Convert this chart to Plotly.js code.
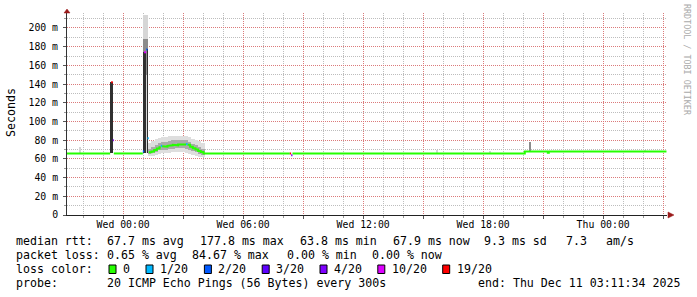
<!DOCTYPE html>
<html><head><meta charset="utf-8">
<script src="https://cdn.plot.ly/plotly-3.0.1.min.js"></script>
<style>html,body{margin:0;padding:0;background:#fff;overflow:hidden}#chart{width:697px;height:297px}</style>
</head><body><div id="chart"></div>
<script>
// ---------- data ----------
const rangeStart = '2025-12-09 21:11:34';
const rangeEnd   = '2025-12-11 03:11:34';

const lossLevels = [0, 1, 2, 3, 4, 10, 19];
const lossLabels = ['0', '1/20', '2/20', '3/20', '4/20', '10/20', '19/20'];
const lossColors = ['#26ff00', '#00b8ff', '#0059ff', '#5e00ff', '#7e00ff', '#dd00ff', '#ff0000'];

// median rtt (ms), step changes: value holds from medT[i] to medT[i+1]
const medT = [
  '2025-12-09 21:10', '2025-12-09 23:21', '2025-12-09 23:24', '2025-12-09 23:29', '2025-12-09 23:32',
  '2025-12-10 00:59', '2025-12-10 01:03', '2025-12-10 01:09', '2025-12-10 01:13', '2025-12-10 01:17',
  '2025-12-10 01:25', '2025-12-10 01:33', '2025-12-10 01:41', '2025-12-10 01:49', '2025-12-10 01:53',
  '2025-12-10 01:57', '2025-12-10 02:05', '2025-12-10 02:13', '2025-12-10 02:21', '2025-12-10 02:29',
  '2025-12-10 02:37', '2025-12-10 02:45', '2025-12-10 02:53', '2025-12-10 03:01', '2025-12-10 03:09',
  '2025-12-10 03:13', '2025-12-10 03:21', '2025-12-10 03:29', '2025-12-10 03:37', '2025-12-10 03:45',
  '2025-12-10 03:53', '2025-12-10 04:01', '2025-12-10 08:20', '2025-12-10 08:24', '2025-12-10 08:28',
  '2025-12-10 20:05', '2025-12-10 21:14', '2025-12-10 21:17'
];
const medV = [
  65.8, null, 142, 80, 65.8,
  68, 174, 177, 82, 67,
  68, 69.5, 71, 72.5, 74,
  73.5, 73, 74, 74.5, 75,
  74.5, 75.5, 75, 75.5, 76,
  75, 73, 71.5, 70, 68.5,
  67.5, 65.8, 65.8, 64, 65.8,
  67.9, 66.6, 67.9
];
const medL = [
  0, 0, 19, 4, 0,
  2, 10, 2, 1, 0,
  0, 0, 0, 0, 1,
  0, 0, 0, 0, 0,
  0, 0, 0, 0, 1,
  0, 0, 0, 0, 0,
  0, 0, 19, 4, 0,
  0, 0, 0
];
const medEnd = '2025-12-11 03:10';

// smoke of the busy period (10-minute bins)
const plateauT = [
  '2025-12-10 01:20', '2025-12-10 01:30', '2025-12-10 01:40', '2025-12-10 01:50', '2025-12-10 02:00',
  '2025-12-10 02:10', '2025-12-10 02:20', '2025-12-10 02:30', '2025-12-10 02:40', '2025-12-10 02:50',
  '2025-12-10 03:00', '2025-12-10 03:10', '2025-12-10 03:20', '2025-12-10 03:30', '2025-12-10 03:40',
  '2025-12-10 03:50', '2025-12-10 04:00'
];
const plateauOuterLo = [63, 63, 64, 65, 66, 66, 66, 67, 67, 67, 67, 66, 65, 64, 63, 62, 62];
const plateauOuterHi = [77, 79, 81, 82, 83, 83, 84, 85, 85, 85, 85, 84, 83, 81, 80, 79, 77];
const plateauInnerLo = [65, 66, 67, 69, 70, 70, 71, 71, 72, 72, 72, 71, 70, 68, 67, 65, 64];
const plateauInnerHi = [71, 73, 75, 77, 78, 78, 79, 80, 80, 80, 80, 80, 78, 76, 75, 73, 71];

// short smoke bursts (4-minute bins)
const lightT  = ['2025-12-09 21:51', '2025-12-10 01:02', '2025-12-10 01:06', '2025-12-10 01:10', '2025-12-10 01:14',
                 '2025-12-10 15:42', '2025-12-10 18:21', '2025-12-11 02:06'];
const lightLo = [65.8, 66, 66, 66, 66, 65.8, 65.8, 67.9];
const lightHi = [73, 214, 214, 214, 214, 70, 68.5, 70];

const midT  = ['2025-12-10 01:02', '2025-12-10 01:06', '2025-12-10 01:10', '2025-12-10 01:14', '2025-12-10 20:21'];
const midLo = [162, 162, 150, 162, 67];
const midHi = [188, 188, 188, 188, 78];

const darkT  = ['2025-12-09 23:23', '2025-12-09 23:27', '2025-12-10 01:02', '2025-12-10 01:06', '2025-12-10 01:14'];
const darkLo = [65.8, 65.8, 66, 66, 66];
const darkHi = [142, 142, 174, 174, 177];

// axis ticks
const xTickVals = ['2025-12-10 00:00', '2025-12-10 03:00', '2025-12-10 06:00', '2025-12-10 09:00', '2025-12-10 12:00',
                   '2025-12-10 15:00', '2025-12-10 18:00', '2025-12-10 21:00', '2025-12-11 00:00', '2025-12-11 03:00'];
const xTickText = ['Wed 00:00', '', 'Wed 06:00', '', 'Wed 12:00', '', 'Wed 18:00', '', 'Thu 00:00', ''];
const yTickVals = [0, 20, 40, 60, 80, 100, 120, 140, 160, 180, 200];
const yTickText = ['0', '20 m', '40 m', '60 m', '80 m', '100 m', '120 m', '140 m', '160 m', '180 m', '200 m'];

// legend texts
const rttStats  = ['67.7 ms avg', '177.8 ms max', '63.8 ms min', '67.9 ms now', '9.3 ms sd', '7.3', 'am/s'];
const lossStats = ['0.65 % avg', '84.67 % max', '0.00 % min', '0.00 % now'];
const probeText = '20 ICMP Echo Pings (56 Bytes) every 300s';
const endText   = 'end: Thu Dec 11 03:11:34 2025';

// ---------- drawing ----------
const MONO = 'DejaVu Sans Mono';
const L = 67, T = 13, PW = 600, PH = 202;
const px = x => (x - L) / PW;
const py = y => (T + PH - y) / PH;

function smokeBars(t, lo, hi, color, widthMin) {
  return {
    type: 'bar', x: t, base: lo, y: hi.map((h, i) => h - lo[i]),
    width: t.map(() => widthMin * 60000),
    marker: {color: color, line: {width: 0}}, hoverinfo: 'skip', showlegend: false
  };
}

function medianTrace(k, color) {
  const xs = [], ys = [];
  for (let i = 0; i < medT.length; i++) {
    const tEnd = i + 1 < medT.length ? medT[i + 1] : medEnd;
    if (medL[i] === k && medV[i] !== null) {
      xs.push(medT[i], tEnd); ys.push(medV[i], medV[i]);
    } else { xs.push(null); ys.push(null); }
  }
  return {type: 'scatter', mode: 'lines', x: xs, y: ys, connectgaps: false,
          line: {color: color, width: 2}, hoverinfo: 'skip', showlegend: false};
}

const traces = [
  smokeBars(plateauT, plateauOuterLo, plateauOuterHi, '#dedede', 10),
  smokeBars(plateauT, plateauInnerLo, plateauInnerHi, '#aaaaaa', 10),
  smokeBars(lightT, lightLo, lightHi, '#d6d6d6', 4),
  smokeBars(midT, midLo, midHi, '#8c8c8c', 4),
  smokeBars(darkT, darkLo, darkHi, '#303030', 4)
];
lossLevels.forEach((k, i) => traces.push(medianTrace(k, lossColors[i])));

const annotations = [];
function txt(x, y, s, extra) {
  annotations.push(Object.assign({
    xref: 'paper', yref: 'paper', x: px(x), y: py(y), xanchor: 'left', yanchor: 'middle',
    text: s, showarrow: false, borderpad: 0, borderwidth: 0,
    font: {family: MONO, size: 11.6, color: '#000'}
  }, extra || {}));
}
// line 1
txt(16, 241, 'median rtt:');
[107.3, 200, 299.6, 393, 484.3, 565.7, 605.7].forEach((x, i) => txt(x, 241, rttStats[i]));
// line 2
txt(16, 255, 'packet loss:');
[107.3, 192.4, 286.7, 372.4].forEach((x, i) => txt(x, 255, lossStats[i]));
// line 3
txt(16, 269, 'loss color:');
const boxX = [109, 146, 204.4, 262.2, 320, 377.8, 442.7];
const shapes = [];
lossLabels.forEach((lab, i) => {
  txt(boxX[i] + 14, 269, lab);
  shapes.push({type: 'rect', xref: 'paper', yref: 'paper',
    x0: px(boxX[i]), x1: px(boxX[i] + 7), y0: py(273.5), y1: py(265),
    fillcolor: lossColors[i], line: {color: '#000', width: 1}});
});
// line 4
txt(16, 283, 'probe:');
txt(107.3, 283, probeText);
txt(478.3, 283, endText);
// y title
annotations.push({xref: 'paper', yref: 'paper', x: px(11), y: py(113), xanchor: 'center', yanchor: 'middle',
  text: 'Seconds', textangle: -90, showarrow: false, borderpad: 0,
  font: {family: MONO, size: 11.6, color: '#000'}});
// watermark
annotations.push({xref: 'paper', yref: 'paper', x: px(687), y: py(60), xanchor: 'center', yanchor: 'middle',
  text: 'RRDTOOL / TOBI OETIKER', textangle: 90, showarrow: false, borderpad: 0,
  font: {family: MONO, size: 8.4, color: '#aaaaaa'}});

// axis arrows
const arrowColor = '#9a1a1a';
shapes.push({type: 'line', xref: 'paper', yref: 'paper', x0: 0, x1: 0, y0: 1, y1: py(11), line: {color: '#333', width: 1}});
shapes.push({type: 'path', xref: 'paper', yref: 'paper',
  path: `M ${px(64)} ${py(13)} L ${px(70)} ${py(13)} L ${px(67)} ${py(9)} Z`,
  fillcolor: arrowColor, line: {color: arrowColor, width: 0.5}});
shapes.push({type: 'path', xref: 'paper', yref: 'paper',
  path: `M ${px(668)} ${py(212)} L ${px(668)} ${py(218)} L ${px(674)} ${py(215)} Z`,
  fillcolor: arrowColor, line: {color: arrowColor, width: 0.5}});

const majorGrid = 'rgba(225,110,110,0.85)';
const minorGrid = '#bdbdbd';
const layout = {
  width: 697, height: 297,
  margin: {l: L, r: 697 - L - PW, t: T, b: 297 - T - PH, pad: 0},
  paper_bgcolor: '#ffffff', plot_bgcolor: '#ffffff',
  showlegend: false, barmode: 'overlay', bargap: 0,
  xaxis: {
    type: 'date', range: [rangeStart, rangeEnd], fixedrange: true,
    tickmode: 'array', tickvals: xTickVals, ticktext: xTickText,
    showgrid: true, gridcolor: majorGrid, griddash: '1px,1px', gridwidth: 1,
    ticks: 'outside', ticklen: 3, tickcolor: '#555', ticklabelstandoff: -3,
    tickfont: {family: MONO, size: 9.8, color: '#000'},
    showline: true, linecolor: '#222', linewidth: 1, zeroline: false,
    minor: {tick0: '2025-12-10 00:00', dtick: 3600000, showgrid: true, gridcolor: minorGrid,
            griddash: '1px,1px', ticks: 'outside', ticklen: 2, tickcolor: '#999'}
  },
  yaxis: {
    range: [0, 216], fixedrange: true,
    tickmode: 'array', tickvals: yTickVals, ticktext: yTickText,
    showgrid: true, gridcolor: majorGrid, griddash: '1px,1px', gridwidth: 1,
    ticks: 'outside', ticklen: 3, tickcolor: '#555', ticklabelstandoff: 3,
    tickfont: {family: MONO, size: 9.8, color: '#000'},
    showline: true, linecolor: '#333', linewidth: 1, zeroline: false,
    minor: {tick0: 0, dtick: 10, showgrid: true, gridcolor: minorGrid,
            griddash: '1px,1px', ticks: 'outside', ticklen: 2, tickcolor: '#999'}
  },
  annotations: annotations,
  shapes: shapes
};

Plotly.newPlot('chart', traces, layout, {displayModeBar: false, staticPlot: true});
</script>
</body></html>
